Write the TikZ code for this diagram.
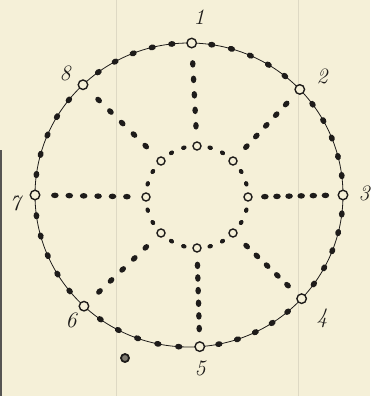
\documentclass[tikz,border=0pt]{standalone}
\usetikzlibrary{decorations.markings}
\definecolor{paper}{RGB}{245,240,216}
\definecolor{ink}{RGB}{30,28,26}
\definecolor{fold}{RGB}{222,217,196}
\begin{document}
\begin{tikzpicture}[x=1pt,y=-1pt,
 opencirc/.style={circle,draw=ink,line width=1.4pt,fill=paper,minimum size=9.5pt,inner sep=0pt},
 innercirc/.style={circle,draw=ink,line width=1.4pt,fill=paper,minimum size=8pt,inner sep=0pt},
 numlabel/.style={text=ink,font=\fontsize{22}{22}\selectfont\itshape,inner sep=0pt},
 dotsfive/.style={postaction={decorate},decoration={markings,mark=between positions 0.166 and 0.84 step 0.1667 with {\fill[ink] (0,0) ellipse [x radius=3.8pt, y radius=2.8pt];}}},
 dotssix/.style={postaction={decorate},decoration={markings,mark=between positions 0.143 and 0.86 step 0.1428 with {\fill[ink] (0,0) ellipse [x radius=3.8pt, y radius=2.8pt];}}},
 foldline/.style={draw=fold,line width=0.7pt}
]
\fill[paper] (0,0) rectangle (370,396);
\useasboundingbox (0,0) rectangle (370,396);
% paper folds and scan edge
\draw[foldline] (116,0) -- (116,396);
\draw[foldline] (298,0) -- (298,396);
\draw[draw=ink!75,line width=1.6pt] (1,150) -- (1,396);
% outer circle
\draw[ink,line width=0.8pt] (189,195) ellipse [x radius=154, y radius=152];
\foreach \a/\b in {89/44,44/0,0/-43,-43/-86,-86/-133,-133/-180,-180/-226.5,-226.5/-271}{
  \foreach \j in {1,...,5}{
    \pgfmathsetmacro\t{\a+\j*(\b-\a)/6}
    \fill[ink,shift={({189+154*cos(\t)},{195-152*sin(\t)})},rotate=\t+90] (0,0) ellipse [x radius=3.7pt, y radius=2.9pt];
  }
}
% inner ring dots
\foreach \k in {0,...,7}{
  \foreach \j in {1,2}{
    \pgfmathsetmacro\t{\k*45+\j*15}
    \fill[ink,shift={({197+51*cos(\t)},{197-51*sin(\t)})},rotate=\t+90] (0,0) ellipse [x radius=2.8pt, y radius=2.2pt];
  }
}
% outer numbered points
\node[opencirc] (p1) at ({189+154*cos(89)},{195-152*sin(89)}) {};
\node[opencirc] (p2) at ({189+154*cos(44)},{195-152*sin(44)}) {};
\node[opencirc] (p3) at ({189+154*cos(0)},{195-152*sin(0)}) {};
\node[opencirc] (p4) at ({189+154*cos(-43)},{195-152*sin(-43)}) {};
\node[opencirc] (p5) at ({189+154*cos(-86)},{195-152*sin(-86)}) {};
\node[opencirc] (p6) at ({189+154*cos(-133)},{195-152*sin(-133)}) {};
\node[opencirc] (p7) at ({189+154*cos(180)},{195-152*sin(180)}) {};
\node[opencirc] (p8) at ({189+154*cos(133.5)},{195-152*sin(133.5)}) {};
% inner points
\node[innercirc] (q1) at (197,146) {};
\node[innercirc] (q2) at (233,161) {};
\node[innercirc] (q3) at (248,197) {};
\node[innercirc] (q4) at (233,233) {};
\node[innercirc] (q5) at (197,248) {};
\node[innercirc] (q6) at (161,233) {};
\node[innercirc] (q7) at (146,197) {};
\node[innercirc] (q8) at (161,161) {};
% radial dotted connectors
\path[dotsfive] (p1) -- (q1);
\path[dotsfive] (p2) -- (q2);
\path[dotssix] (p3) -- (q3);
\path[dotsfive] (p4) -- (q4);
\path[dotssix] (p5) -- (q5);
\path[dotsfive] (p6) -- (q6);
\path[dotssix] (p7) -- (q7);
\path[dotsfive] (p8) -- (q8);
% labels
\node[numlabel] (l1) at (199,17) {1};
\node[numlabel] (l2) at (322,76) {2};
\node[numlabel] (l3) at (364,193) {3};
\node[numlabel] (l4) at (322,318) {4};
\node[numlabel] (l5) at (200,368) {5};
\node[numlabel] (l6) at (71,320) {6};
\node[numlabel] (l7) at (15,203) {7};
\node[numlabel] (l8) at (65,73) {8};
% small mark
\node[circle,draw=ink,line width=1.8pt,fill=paper!45!ink,minimum size=8pt,inner sep=0pt] (mk) at (125,358) {};
\end{tikzpicture}
\end{document}
